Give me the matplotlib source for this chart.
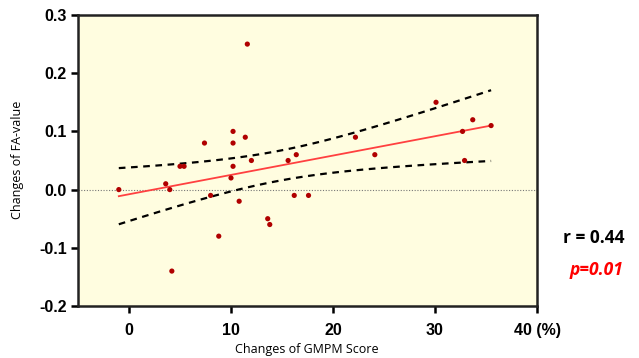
import numpy as np
import matplotlib
matplotlib.use("Agg")
import matplotlib.pyplot as plt

# GMPM score change (%) vs FA-value change
gmpm = [-1.0, 3.6, 4.0, 4.2, 5.0, 5.4, 7.4, 8.0, 8.8, 10.0, 10.2, 10.2, 10.2, 10.8, 11.4,
        11.6, 12.0, 13.6, 13.8, 15.6, 16.2, 16.4, 17.6, 22.2, 24.1, 30.1, 32.7, 32.9, 33.7, 35.5]
fa = [0.00, 0.01, 0.00, -0.14, 0.04, 0.04, 0.08, -0.01, -0.08, 0.02, 0.04, 0.08, 0.10, -0.02, 0.09,
      0.25, 0.05, -0.05, -0.06, 0.05, -0.01, 0.06, -0.01, 0.09, 0.06, 0.15, 0.10, 0.05, 0.12, 0.11]
xticks = [0, 10, 20, 30, 40]
xticklabels = ["0", "10", "20", "30", "40 (%)"]
yticks = [-0.2, -0.1, 0.0, 0.1, 0.2, 0.3]
yticklabels = ["-0.2", "-0.1", "0.0", "0.1", "0.2", "0.3"]

x = np.array(gmpm)
y = np.array(fa)
n = len(x)

# linear fit + 95% confidence band
slope, intercept = np.polyfit(x, y, 1)
xs = np.linspace(x.min(), x.max(), 100)
yfit = slope * xs + intercept
resid = y - (slope * x + intercept)
s = np.sqrt(np.sum(resid**2) / (n - 2))
t = 2.048  # t(0.975, 28)
se = s * np.sqrt(1.0 / n + (xs - x.mean())**2 / np.sum((x - x.mean())**2))
upper = yfit + t * se
lower = yfit - t * se

fig = plt.figure(figsize=(6.39, 3.58), dpi=100)
ax = fig.add_axes([78 / 639, 1 - 306 / 358, (537 - 78) / 639, (306 - 15) / 358])
ax.set_facecolor("#fffde0")

ax.axhline(0, color="#777777", lw=0.8, ls=(0, (1, 1.5)))
ax.plot(xs, upper, color="black", lw=1.6, ls=(0, (3, 2.5)))
ax.plot(xs, lower, color="black", lw=1.6, ls=(0, (3, 2.5)))
ax.plot(xs, yfit, color="#ff4040", lw=1.3)
ax.scatter(x, y, s=14, color="#b00000", zorder=5, edgecolors="none")

ax.set_xlim(-5, 40)
ax.set_ylim(-0.2, 0.3)
ax.set_xticks(xticks)
ax.set_xticklabels(xticklabels)
ax.set_yticks(yticks)
ax.set_yticklabels(yticklabels)
for sp in ax.spines.values():
    sp.set_linewidth(1.8)
    sp.set_color("#222222")
ax.tick_params(direction="out", length=5, width=1.8, labelsize=11.5)
ax.tick_params(axis="y", pad=3)
ax.tick_params(axis="x", pad=7)
for lab in ax.get_xticklabels() + ax.get_yticklabels():
    lab.set_fontweight("bold")
    lab.set_family("Liberation Sans")

fig.text(307 / 639, 1 - 349 / 358, "Changes of GMPM Score", ha="center", va="center",
         fontsize=9, family="Open Sans")
fig.text(18 / 639, 1 - 160 / 358, "Changes of FA-value", ha="center", va="center",
         rotation=90, fontsize=9, family="Open Sans")

fig.text(594 / 639, 1 - 238 / 358, "r = 0.44", ha="center", va="center",
         fontsize=12.5, fontweight="bold", family="Open Sans")
fig.text(597 / 639, 1 - 270 / 358, "p=0.01", ha="center", va="center", color="red",
         fontsize=12.5, fontweight="bold", style="italic", family="Open Sans")

fig.savefig("out.png", dpi=100)
